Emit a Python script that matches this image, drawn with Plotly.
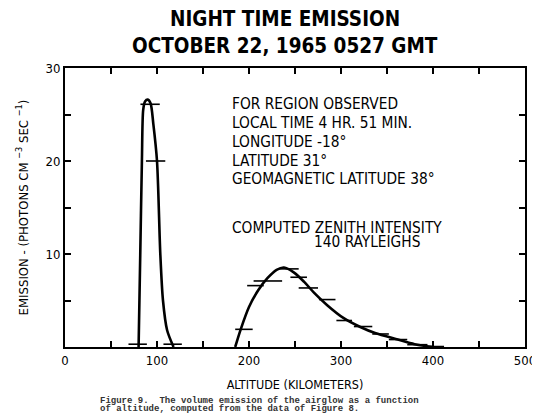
import plotly.graph_objects as go

# smooth curves: altitude (km) vs emission
low_alt = [80, 81.8, 83.6, 85, 87, 90, 93, 96, 100, 103.6, 106.5, 111, 118]
low_emis = [0, 10, 20, 25.5, 26.4, 26.6, 26.2, 24, 20, 10, 5, 1.8, 0]

high_alt = [185, 191, 200, 210, 220, 230, 238, 249, 260, 270.6, 285, 303, 321, 337, 361.7, 380, 400]
high_emis = [0, 1.9, 4.3, 6.1, 7.4, 8.3, 8.55, 8.0, 7.0, 5.85, 4.5, 3.1, 2.15, 1.5, 0.8, 0.3, 0]

# horizontal data bars (altitude span, emission level)
bar_alt_lo = [69, 82, 88, 107, 185, 198, 205, 232, 245, 254, 276, 295, 314, 334, 352, 372, 394]
bar_alt_hi = [89, 103, 109, 127, 204, 216, 236, 254, 263, 275, 294, 312, 334, 352, 372, 394, 412]
bar_emis = [0.3, 26.1, 20.0, 0.3, 1.9, 6.6, 7.1, 8.4, 7.5, 6.35, 5.1, 2.85, 2.2, 1.4, 0.8, 0.25, 0.05]

x_tick_vals = list(range(0, 501, 50))
x_tick_text = ['0', '', '100', '', '200', '', '300', '', '400', '', '500']
y_tick_vals = list(range(0, 31, 5))
y_tick_text = ['', '', '10', '', '20', '', '30']

title_lines = ['NIGHT TIME EMISSION', 'OCTOBER 22, 1965 0527 GMT']
info_lines = ['FOR REGION OBSERVED', 'LOCAL TIME 4 HR. 51 MIN.', 'LONGITUDE -18°',
              'LATITUDE 31°', 'GEOMAGNETIC LATITUDE 38°']
intensity_lines = ['COMPUTED ZENITH INTENSITY', '140 RAYLEIGHS']
caption_lines = ['Figure 9.  The volume emission of the airglow as a function',
                 'of altitude, computed from the data of Figure 8.']

cond = 'DejaVu Sans Condensed, Liberation Sans, sans-serif'
mono = 'Liberation Mono, DejaVu Sans Mono, monospace'

bx, by = [], []
for lo, hi, e in zip(bar_alt_lo, bar_alt_hi, bar_emis):
    bx += [lo, hi, None]
    by += [e, e, None]

fig = go.Figure()
fig.add_scatter(x=bx, y=by, mode='lines', line=dict(color='black', width=1.6),
                cliponaxis=False, showlegend=False)
fig.add_scatter(x=low_alt, y=low_emis, mode='lines',
                line=dict(color='black', width=2.6, shape='spline', smoothing=0.8),
                showlegend=False)
fig.add_scatter(x=high_alt, y=high_emis, mode='lines',
                line=dict(color='black', width=2.6, shape='spline', smoothing=0.8),
                showlegend=False)

axis_common = dict(showgrid=False, zeroline=False, showline=True, linecolor='black',
                   linewidth=2, mirror='ticks', ticks='inside', ticklen=6,
                   tickwidth=1.5, tickcolor='black', automargin=False,
                   tickfont=dict(family=cond, size=13, color='black'))

# page body adds ~8px offset, so the figure is a little smaller than the window
fig.update_layout(
    width=532, height=407,
    margin=dict(l=57, r=14.5, t=60, b=68.3),
    paper_bgcolor='white', plot_bgcolor='white',
    xaxis=dict(range=[0, 500], tickmode='array', tickvals=x_tick_vals,
               ticktext=x_tick_text,
               title=dict(text='ALTITUDE (KILOMETERS)', standoff=14,
                          font=dict(family=cond, size=12.5, color='black')),
               **axis_common),
    yaxis=dict(range=[0, 30], tickmode='array', tickvals=y_tick_vals,
               ticktext=y_tick_text,
               title=dict(text='EMISSION - (PHOTONS CM <sup>−3</sup> SEC <sup>−1</sup>)',
                          standoff=14,
                          font=dict(family=cond, size=13, color='black')),
               **axis_common),
)

for i, t in enumerate(title_lines):
    fig.add_annotation(text='<b>' + t + '</b>', xref='paper', yref='paper',
                       x=0.478, y=1.177 - i * 0.099, xanchor='center', yanchor='middle',
                       showarrow=False,
                       font=dict(family=cond, size=20.5, color='black'))

for i, t in enumerate(info_lines):
    fig.add_annotation(text=t, x=179, y=26.1 - i * 2.02, xanchor='left',
                       yanchor='middle', showarrow=False,
                       font=dict(family=cond, size=15.3, color='black'))

fig.add_annotation(text=intensity_lines[0], x=179, y=12.75, xanchor='left',
                   yanchor='middle', showarrow=False,
                   font=dict(family=cond, size=15.3, color='black'))
fig.add_annotation(text=intensity_lines[1], x=268, y=11.3, xanchor='left',
                   yanchor='middle', showarrow=False,
                   font=dict(family=cond, size=15.3, color='black'))

for i, t in enumerate(caption_lines):
    fig.add_annotation(text='<b>' + t + '</b>', xref='paper', yref='paper',
                       x=0.072, y=-0.193 - i * 0.029, xanchor='left', yanchor='middle',
                       showarrow=False,
                       font=dict(family=mono, size=9, color='#333'))

fig.write_html('out.html')
